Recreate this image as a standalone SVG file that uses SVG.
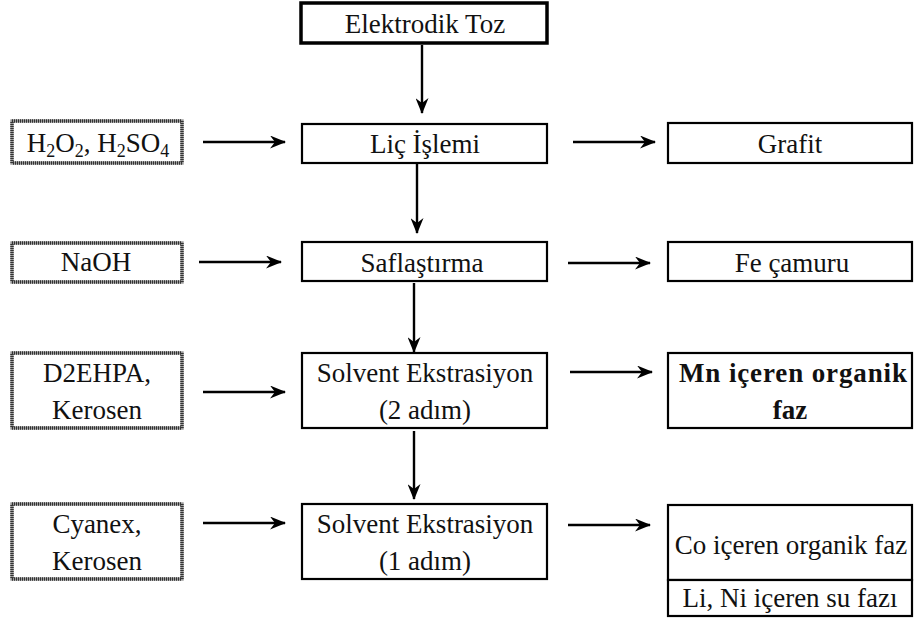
<svg xmlns="http://www.w3.org/2000/svg" width="915" height="619" viewBox="0 0 915 619" font-family="'Liberation Serif', 'DejaVu Serif', serif">
  <defs>
    <marker id="arrow" viewBox="0 0 16 13" refX="15" refY="6.5" markerWidth="16" markerHeight="13" markerUnits="userSpaceOnUse" orient="auto">
      <path d="M0,0 L16,6.5 L0,13 L5,6.5 Z" fill="#000"/>
    </marker>
  </defs>
  <style>
    text { font-family: 'Liberation Serif', 'DejaVu Serif', serif; font-size: 27px; fill: #111; text-anchor: middle; }
    .b { font-weight: bold; }
    .box { fill: #fff; stroke: #000; stroke-width: 2.2; }
    .main { fill: #fff; stroke: #000; stroke-width: 3.5; }
    .inbase { fill: #fff; stroke: #9a9a9a; stroke-width: 3.4; }
    .indot { fill: none; stroke: #333; stroke-width: 3.4; stroke-dasharray: 1 1; }
    .edge { fill: none; stroke: #000; stroke-width: 2.4; marker-end: url(#arrow); }
  </style>
  <rect width="915" height="619" fill="#fff"/>

  <!-- start node -->
  <g id="elektrodik-toz">
    <rect class="main" x="301" y="3" width="246" height="40"/>
    <text x="425" y="33">Elektrodik Toz</text>
  </g>

  <!-- reagent inputs (left column) -->
  <g id="h2o2-h2so4">
    <rect class="inbase" x="12" y="121" width="170" height="42"/>
    <rect class="indot" x="12" y="121" width="170" height="42"/>
    <text x="98" y="152">H<tspan font-size="18" dy="5">2</tspan><tspan dy="-5">O</tspan><tspan font-size="18" dy="5">2</tspan><tspan dy="-5">, H</tspan><tspan font-size="18" dy="5">2</tspan><tspan dy="-5">SO</tspan><tspan font-size="18" dy="5">4</tspan></text>
  </g>
  <g id="naoh">
    <rect class="inbase" x="12" y="243" width="170" height="39"/>
    <rect class="indot" x="12" y="243" width="170" height="39"/>
    <text x="96" y="271">NaOH</text>
  </g>
  <g id="d2ehpa-kerosen">
    <rect class="inbase" x="12" y="353" width="170" height="75"/>
    <rect class="indot" x="12" y="353" width="170" height="75"/>
    <text x="97" y="382">D2EHPA,</text>
    <text x="97" y="419">Kerosen</text>
  </g>
  <g id="cyanex-kerosen">
    <rect class="inbase" x="12" y="504" width="170" height="75"/>
    <rect class="indot" x="12" y="504" width="170" height="75"/>
    <text x="97" y="533">Cyanex,</text>
    <text x="97" y="570">Kerosen</text>
  </g>

  <!-- process steps (middle column) -->
  <g id="lic-islemi">
    <rect class="box" x="302" y="124" width="245" height="39"/>
    <text x="425" y="153">Liç İşlemi</text>
  </g>
  <g id="saflastirma">
    <rect class="box" x="302" y="242" width="245" height="39"/>
    <text x="422" y="272">Saflaştırma</text>
  </g>
  <g id="solvent-2">
    <rect class="box" x="302" y="353" width="245" height="75"/>
    <text x="425" y="382">Solvent Ekstrasiyon</text>
    <text x="425" y="419">(2 adım)</text>
  </g>
  <g id="solvent-1">
    <rect class="box" x="302" y="504" width="245" height="75"/>
    <text x="425" y="533">Solvent Ekstrasiyon</text>
    <text x="425" y="570">(1 adım)</text>
  </g>

  <!-- products (right column) -->
  <g id="grafit">
    <rect class="box" x="668" y="123" width="244" height="40"/>
    <text x="790" y="153">Grafit</text>
  </g>
  <g id="fe-camuru">
    <rect class="box" x="668" y="242" width="244" height="39"/>
    <text x="792" y="272">Fe çamuru</text>
  </g>
  <g id="mn-organik">
    <rect class="box" x="668" y="353" width="244" height="75"/>
    <text class="b" x="793" y="382" textLength="228" lengthAdjust="spacing">Mn içeren organik</text>
    <text class="b" x="790" y="419">faz</text>
  </g>
  <g id="co-organik">
    <rect class="box" x="668" y="505" width="244" height="75"/>
    <text x="791" y="554">Co içeren organik faz</text>
  </g>
  <g id="li-ni-su">
    <rect class="box" x="668" y="580" width="244" height="36"/>
    <text x="790" y="607">Li, Ni içeren su fazı</text>
  </g>

  <!-- connectors -->
  <g id="connectors">
    <line class="edge" x1="422" y1="45" x2="422" y2="113"/>
    <line class="edge" x1="417" y1="164" x2="417" y2="233"/>
    <line class="edge" x1="414" y1="283" x2="414" y2="352"/>
    <line class="edge" x1="414" y1="431" x2="414" y2="499"/>

    <line class="edge" x1="203" y1="142" x2="285" y2="142"/>
    <line class="edge" x1="199" y1="262" x2="281" y2="262"/>
    <line class="edge" x1="203" y1="392" x2="285" y2="392"/>
    <line class="edge" x1="203" y1="523" x2="285" y2="523"/>

    <line class="edge" x1="573" y1="142" x2="655" y2="142"/>
    <line class="edge" x1="568" y1="263" x2="650" y2="263"/>
    <line class="edge" x1="570" y1="372" x2="652" y2="372"/>
    <line class="edge" x1="568" y1="525" x2="650" y2="525"/>
  </g>
</svg>
